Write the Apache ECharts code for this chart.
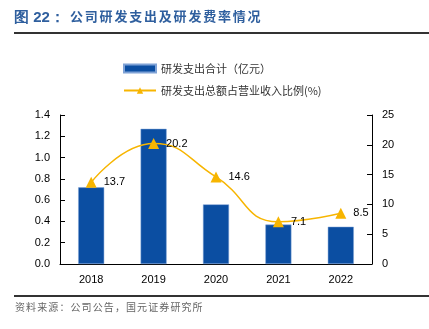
<!DOCTYPE html>
<html><head><meta charset="utf-8">
<script src="https://cdn.jsdelivr.net/npm/echarts@6/dist/echarts.min.js"></script>
<style>html,body{margin:0;padding:0;background:#fff}#c{width:429px;height:329px}</style>
</head><body><div id="c"></div>
<script>
const categories = ['2018','2019','2020','2021','2022'];
const rdSpend = [0.72, 1.27, 0.56, 0.37, 0.35];
const rdRatio = [13.7, 20.2, 14.6, 7.1, 8.5];
const leftTicks = {min:0, max:1.4, interval:0.2};
const rightTicks = {min:0, max:25, interval:5};
const titlePrefix = '图 22：';
const titleText = '公司研发支出及研发费率情况';
const sourceText = '资料来源：公司公告，国元证券研究所';

const chart = echarts.init(document.getElementById('c'), null, {renderer:'canvas'});
const numFont = 'Liberation Sans, Arial, sans-serif';
const cjk = '"Noto Sans CJK SC", sans-serif';
const graphics = [
  {type:'text', left:14, top:10, style:{text:titlePrefix, fontFamily:numFont, fontWeight:'bold', fontSize:15, fill:'#2f5f9e'}},
  {type:'rect', shape:{x:14, y:32, width:415, height:2}, style:{fill:'#333'}},
  {type:'rect', shape:{x:14, y:295, width:415, height:2}, style:{fill:'#333'}}
];
Array.from(titleText).forEach((ch,i)=>{
  graphics.push({type:'text', left:70 + i*14.8, top:10, style:{text:ch, fontFamily:cjk, fontWeight:'bold', fontSize:13, fill:'#2f5f9e'}});
});
Array.from(sourceText).forEach((ch,i)=>{
  graphics.push({type:'text', left:15 + i*11.1, top:302, style:{text:ch, fontFamily:cjk, fontSize:10, fill:'#666'}});
});
chart.setOption({
  animation:false,
  grid:{left:60, right:57, top:115, bottom:65},
  legend:{
    orient:'vertical', left:118, top:58, itemGap:11, itemWidth:32, itemHeight:8,
    textStyle:{fontFamily:cjk, fontSize:11, color:'#333'},
    data:[{name:'研发支出合计（亿元）', icon:'rect'},{name:'研发支出总额占营业收入比例(%)'}]
  },
  xAxis:{type:'category', data:categories,
    axisLine:{lineStyle:{color:'#000'}},
    axisTick:{inside:true, lineStyle:{color:'#000'}},
    axisLabel:{color:'#000', fontFamily:numFont, fontSize:11, margin:10}},
  yAxis:[
    {type:'value', min:leftTicks.min, max:leftTicks.max, interval:leftTicks.interval,
     axisLine:{show:true, lineStyle:{color:'#000'}}, axisTick:{show:true, inside:true, lineStyle:{color:'#000'}},
     splitLine:{show:false},
     axisLabel:{color:'#000', fontFamily:numFont, fontSize:11, formatter:v=>v.toFixed(1), margin:10}},
    {type:'value', min:rightTicks.min, max:rightTicks.max, interval:rightTicks.interval, position:'right',
     axisLine:{show:true, lineStyle:{color:'#000'}}, axisTick:{show:true, inside:true, lineStyle:{color:'#000'}},
     splitLine:{show:false},
     axisLabel:{color:'#000', fontFamily:numFont, fontSize:11, margin:10}}
  ],
  series:[
    {name:'研发支出合计（亿元）', type:'bar', data:rdSpend, barWidth:26,
     itemStyle:{color:'#0b4ea2', borderColor:'#7fa2d6', borderWidth:0.5}},
    {name:'研发支出总额占营业收入比例(%)', type:'line', yAxisIndex:1, data:rdRatio, smooth:0.5,
     symbol:'triangle', symbolSize:11,
     lineStyle:{color:'#f7b500', width:1.5}, itemStyle:{color:'#f7b500'},
     label:{show:true, position:'right', distance:7, color:'#000', fontFamily:numFont, fontSize:11}}
  ],
  graphic:graphics
});
</script></body></html>
